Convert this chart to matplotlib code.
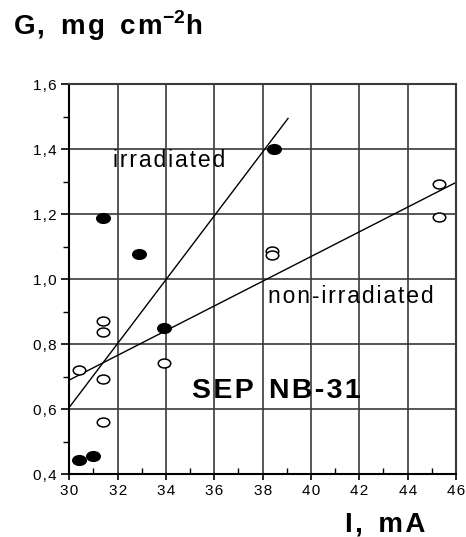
import matplotlib
matplotlib.use("Agg")
import matplotlib.pyplot as plt
import numpy as np
from matplotlib.path import Path
from matplotlib.ticker import MultipleLocator, FuncFormatter

plt.rcParams['font.family'] = ['Liberation Sans', 'DejaVu Sans']
plt.rcParams['mathtext.fontset'] = 'custom'
plt.rcParams['mathtext.bf'] = 'Liberation Sans:bold'
plt.rcParams['mathtext.rm'] = 'Liberation Sans:bold'

# irradiated samples (filled) and non-irradiated (open)
irr_x = [30.4, 31.0, 31.4, 32.9, 33.9, 38.45]
irr_y = [0.443, 0.457, 1.188, 1.077, 0.851, 1.402]
non_x = [30.4, 31.4, 31.4, 31.4, 31.4, 33.9, 38.4, 38.4, 45.3, 45.3]
non_y = [0.721, 0.873, 0.837, 0.692, 0.56, 0.742, 1.088, 1.076, 1.292, 1.191]

# fitted lines (end points)
irr_fit_x = [30.0, 39.05]
irr_fit_y = [0.606, 1.495]
non_fit_x = [30.0, 46.0]
non_fit_y = [0.690, 1.298]

x_ticks = [30, 32, 34, 36, 38, 40, 42, 44, 46]
y_ticks = [0.4, 0.6, 0.8, 1.0, 1.2, 1.4, 1.6]

SP = "\u200a"  # hair space, the original text is letter-spaced


def track(s):
    return SP.join(s)


# ellipse marker (wider than tall)
circ = Path.unit_circle()
ell = Path(circ.vertices * np.array([1.4, 1.0]), circ.codes)

fig = plt.figure(figsize=(4.66, 5.37), dpi=100)
ax = fig.add_axes([0.1487, 0.1168, 0.8298, 0.7262])

ax.grid(True, which='major', color='#3a3a3a', linewidth=1.2)
ax.set_axisbelow(True)

ax.plot(irr_fit_x, irr_fit_y, color='black', linewidth=1.0)
ax.plot(non_fit_x, non_fit_y, color='black', linewidth=1.0)

ax.plot(non_x, non_y, linestyle='none', marker=ell, markersize=9,
        markerfacecolor='white', markeredgecolor='black', markeredgewidth=1.1)
ax.plot(irr_x, irr_y, linestyle='none', marker=ell, markersize=9.8,
        markerfacecolor='black', markeredgecolor='black')

ax.set_xlim(30, 46)
ax.set_ylim(0.4, 1.6)
ax.set_xticks(x_ticks)
ax.set_yticks(y_ticks)
ax.xaxis.set_minor_locator(MultipleLocator(1))
ax.yaxis.set_minor_locator(MultipleLocator(0.1))
ax.xaxis.set_major_formatter(FuncFormatter(lambda v, p: track("%d" % v)))
ax.yaxis.set_major_formatter(FuncFormatter(lambda v, p: track(("%.1f" % v).replace('.', ','))))

ax.tick_params(axis='x', which='major', direction='out', length=4, width=1.2,
               labelsize=11, pad=3)
ax.tick_params(axis='x', which='minor', direction='in', length=4, width=1.0)
ax.tick_params(axis='y', which='major', direction='out', length=6, width=1.2,
               labelsize=11, pad=3)
ax.tick_params(axis='y', which='minor', direction='out', length=4, width=1.0)

for side in ['left', 'bottom']:
    ax.spines[side].set_linewidth(1.5)
for side in ['top', 'right']:
    ax.spines[side].set_color('#3a3a3a')
    ax.spines[side].set_linewidth(1.5)

ax.text(31.8, 1.347, track("irradiated"), fontsize=16.5, ha='left', va='baseline')
ax.text(38.24, 0.927, track("non-irradiated"), fontsize=16.5, ha='left', va='baseline')
ax.text(35.07, 0.634, track("SEP") + "  " + track("NB-31"), fontsize=20.5,
        fontweight='bold', ha='left', va='baseline')

fig.text(13 / 466, 1 - 35 / 537,
         track("G,") + "  " + track("mg") + "  " + track("cm") + r"$^{\mathbf{-2}}$" + "h",
         fontsize=20, fontweight='bold', ha='left', va='baseline')
fig.text(345 / 466, 1 - 532 / 537, track("I,") + "  " + track("mA"),
         fontsize=20, fontweight='bold', ha='left', va='baseline')

fig.savefig("out.png", dpi=100)
